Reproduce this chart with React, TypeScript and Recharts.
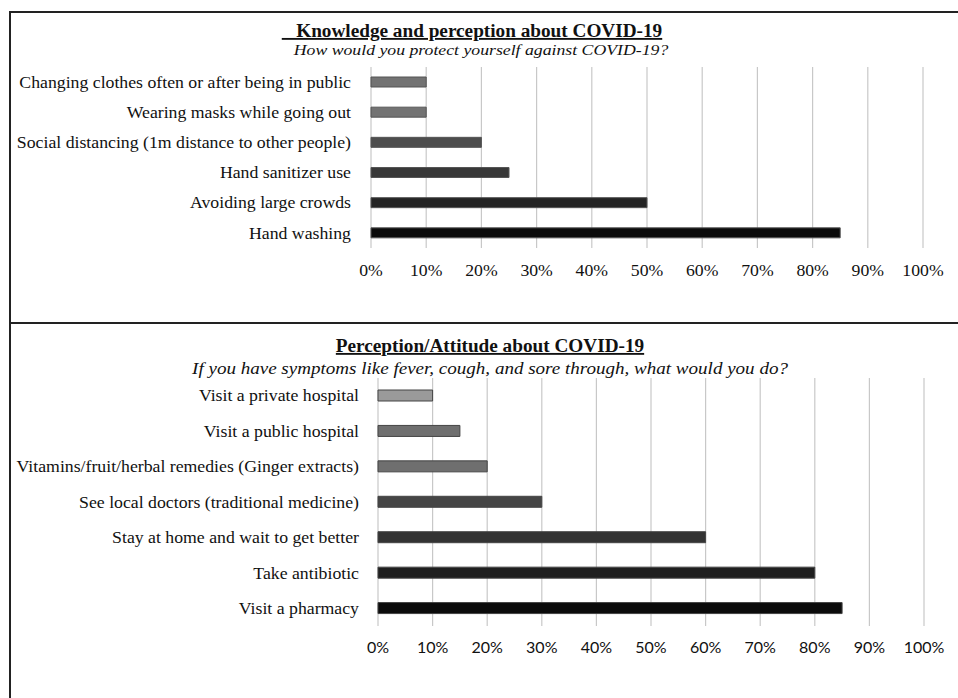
import { Bar, BarChart, CartesianGrid, Cell, XAxis, YAxis } from "recharts";

const protectCategories = [
  "Changing clothes often or after being in public",
  "Wearing masks while going out",
  "Social distancing (1m distance to other people)",
  "Hand sanitizer use",
  "Avoiding large crowds",
  "Hand washing",
];
const protectValues = [10, 10, 20, 25, 50, 85];
const protectColors = ["#737373", "#737373", "#4d4d4d", "#383838", "#242424", "#0b0b0b"];

const symptomCategories = [
  "Visit a private hospital",
  "Visit a public hospital",
  "Vitamins/fruit/herbal remedies (Ginger extracts)",
  "See local doctors (traditional medicine)",
  "Stay at home and wait to get better",
  "Take antibiotic",
  "Visit a pharmacy",
];
const symptomValues = [10, 15, 20, 30, 60, 80, 85];
const symptomColors = ["#9a9a9a", "#6f6f6f", "#6f6f6f", "#454545", "#333333", "#1f1f1f", "#0b0b0b"];

const percentTicks = [0, 10, 20, 30, 40, 50, 60, 70, 80, 90, 100];

const serif = "'Liberation Serif', 'Times New Roman', serif";
const sans = "Lato, 'Open Sans', sans-serif";

const protectData = protectCategories.map((name, i) => ({ name, value: protectValues[i] }));
const symptomData = symptomCategories.map((name, i) => ({ name, value: symptomValues[i] }));

// the source image is a bit wider than tall, so the labels get stretched sideways
function WideLabel(props: any) {
  const { x, y, payload } = props;
  return (
    <text
      transform={`translate(${x},${y}) scale(1.11,1)`}
      textAnchor="end"
      dy="0.355em"
      fontFamily={serif}
      fontSize={16}
      fill="#111"
    >
      {payload.value}
    </text>
  );
}

export default function App() {
  return (
    <div
      style={{
        position: "absolute",
        left: 0,
        top: 0,
        width: 958,
        height: 698,
        background: "#fff",
        overflow: "hidden",
      }}
    >
      <div style={{ position: "absolute", left: 0, top: 0 }}>
        <BarChart
          width={958}
          height={323}
          layout="vertical"
          data={protectData}
          margin={{ top: 67, right: 35, left: 10, bottom: 45 }}
        >
          <CartesianGrid horizontal={false} stroke="#c8c8c8" strokeWidth={1.2} />
          <XAxis
            type="number"
            domain={[0, 100]}
            ticks={percentTicks}
            tickFormatter={(v) => `${v}%`}
            axisLine={false}
            tickLine={false}
            tickSize={0}
            tickMargin={15}
            height={30}
            interval={0}
            tick={{ fill: "#111", fontFamily: serif, fontSize: 17.7 }}
          />
          <YAxis
            type="category"
            dataKey="name"
            width={361}
            axisLine={false}
            tickLine={false}
            tickSize={0}
            tickMargin={20}
            interval={0}
            tick={<WideLabel />}
          />
          <Bar dataKey="value" barSize={10} isAnimationActive={false} stroke="#555" strokeWidth={1}>
            {protectData.map((_, i) => (
              <Cell key={i} fill={protectColors[i]} />
            ))}
          </Bar>
        </BarChart>
      </div>

      <div style={{ position: "absolute", left: 0, top: 323 }}>
        <BarChart
          width={958}
          height={375}
          layout="vertical"
          data={symptomData}
          margin={{ top: 55, right: 34, left: 10, bottom: 42 }}
        >
          <CartesianGrid horizontal={false} stroke="#c8c8c8" strokeWidth={1.2} />
          <XAxis
            type="number"
            domain={[0, 100]}
            ticks={percentTicks}
            tickFormatter={(v) => `${v}%`}
            axisLine={false}
            tickLine={false}
            tickSize={0}
            tickMargin={16}
            height={30}
            interval={0}
            tick={{ fill: "#111", fontFamily: sans, fontSize: 16 }}
          />
          <YAxis
            type="category"
            dataKey="name"
            width={368}
            axisLine={false}
            tickLine={false}
            tickSize={0}
            tickMargin={19}
            interval={0}
            tick={<WideLabel />}
          />
          <Bar dataKey="value" barSize={11} isAnimationActive={false} stroke="#444" strokeWidth={1}>
            {symptomData.map((_, i) => (
              <Cell key={i} fill={symptomColors[i]} />
            ))}
          </Bar>
        </BarChart>
      </div>

      <svg
        width={958}
        height={698}
        style={{ position: "absolute", left: 0, top: 0, pointerEvents: "none" }}
      >
        <line x1={10} y1={12} x2={958} y2={12} stroke="#222" strokeWidth={2} />
        <line x1={10} y1={11} x2={10} y2={698} stroke="#222" strokeWidth={2} />
        <line x1={10} y1={323} x2={958} y2={323} stroke="#222" strokeWidth={2} />

        <text
          x={472}
          y={37}
          textAnchor="middle"
          fontFamily={serif}
          fontSize={18.5}
          fontWeight="bold"
          fill="#111"
          transform="translate(472,0) scale(1.04,1) translate(-472,0)"
          style={{ textDecoration: "underline", whiteSpace: "pre" }}
        >
          {"\u00a0\u00a0\u00a0Knowledge and perception about COVID-19"}
        </text>
        <text
          transform="translate(481,55) scale(1.16,1)"
          textAnchor="middle"
          fontFamily={serif}
          fontSize={15.3}
          fontStyle="italic"
          fill="#111"
        >
          How would you protect yourself against COVID-19?
        </text>

        <text
          x={490}
          y={352}
          textAnchor="middle"
          fontFamily={serif}
          fontSize={18.5}
          fontWeight="bold"
          fill="#111"
          transform="translate(490,0) scale(1.04,1) translate(-490,0)"
          style={{ textDecoration: "underline" }}
        >
          Perception/Attitude about COVID-19
        </text>
        <text
          transform="translate(490,374) scale(1.19,1)"
          textAnchor="middle"
          fontFamily={serif}
          fontSize={16}
          fontStyle="italic"
          fill="#111"
        >
          If you have symptoms like fever, cough, and sore through, what would you do?
        </text>
      </svg>
    </div>
  );
}
